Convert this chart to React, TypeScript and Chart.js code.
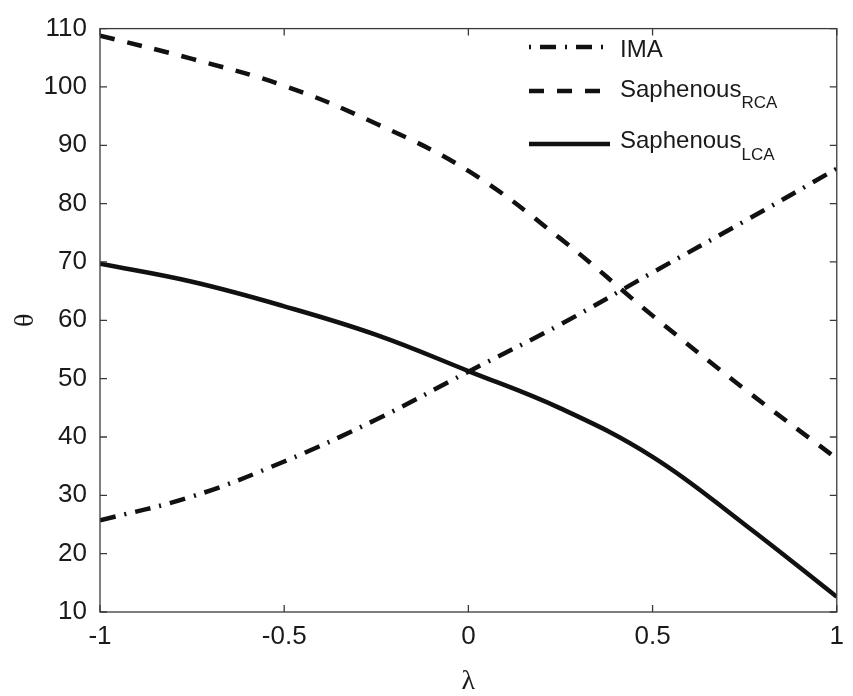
import React, { useEffect, useRef } from "react";
import { Chart, registerables } from "chart.js";

Chart.register(...registerables);

// ---- data ----
const LAMBDA = [-1, -0.75, -0.5, -0.25, 0, 0.25, 0.5, 0.75, 1];
const IMA = [25.7, 29.8, 35.8, 43.0, 51.2, 59.3, 68.2, 77.0, 86.0];
const SAPH_RCA = [108.8, 104.8, 100.2, 93.7, 85.6, 74.0, 60.8, 48.2, 36.3];
const SAPH_LCA = [69.7, 66.6, 62.4, 57.5, 51.3, 44.9, 36.6, 25.0, 12.6];
const X_TICKS = [-1, -0.5, 0, 0.5, 1];
const Y_TICKS = [10, 20, 30, 40, 50, 60, 70, 80, 90, 100, 110];
const SERIES_NAMES = ["IMA", "Saphenous", "Saphenous"];
const SERIES_SUBS = ["", "RCA", "LCA"];
const X_TITLE = "λ";
const Y_TITLE = "θ";

const DASHES = [
  [16, 9, 2, 9],
  [15, 13],
  [],
];
const LEGEND_DASH_OFFSET = [25, 0, 0];

const SANS = '"Liberation Sans", Arial, Helvetica, sans-serif';
const SERIF = '"Liberation Serif", "DejaVu Serif", serif';

const framePlugin = {
  id: "frame",
  afterDraw(chart: any) {
    const { ctx, chartArea: a } = chart;
    const xs = chart.scales.x;
    const ys = chart.scales.y;
    ctx.save();
    ctx.strokeStyle = "#3a3a3a";
    ctx.lineWidth = 1.3;
    ctx.strokeRect(a.left, a.top, a.right - a.left, a.bottom - a.top);
    const L = 7;
    ctx.beginPath();
    for (const v of X_TICKS) {
      const px = xs.getPixelForValue(v);
      ctx.moveTo(px, a.bottom);
      ctx.lineTo(px, a.bottom - L);
      ctx.moveTo(px, a.top);
      ctx.lineTo(px, a.top + L);
    }
    for (const v of Y_TICKS) {
      const py = ys.getPixelForValue(v);
      ctx.moveTo(a.left, py);
      ctx.lineTo(a.left + L, py);
      ctx.moveTo(a.right, py);
      ctx.lineTo(a.right - L, py);
    }
    ctx.stroke();

    // legend
    const lineY = [47, 91, 144];
    const baseY = [56.5, 97, 148];
    const subY = [0, 108, 160];
    const x0 = 529;
    const x1 = 610;
    const tx = 620;
    chart.data.datasets.forEach((ds: any, i: number) => {
      ctx.save();
      ctx.strokeStyle = "#111";
      ctx.lineWidth = 4.5;
      ctx.lineCap = "butt";
      ctx.setLineDash(ds.borderDash || []);
      ctx.lineDashOffset = LEGEND_DASH_OFFSET[i];
      ctx.beginPath();
      ctx.moveTo(x0, lineY[i]);
      ctx.lineTo(x1, lineY[i]);
      ctx.stroke();
      ctx.restore();
      ctx.fillStyle = "#1a1a1a";
      ctx.textBaseline = "alphabetic";
      ctx.textAlign = "left";
      ctx.font = `24px ${SANS}`;
      ctx.fillText(SERIES_NAMES[i], tx, baseY[i]);
      if (SERIES_SUBS[i]) {
        const w = ctx.measureText(SERIES_NAMES[i]).width;
        ctx.font = `17px ${SANS}`;
        ctx.fillText(SERIES_SUBS[i], tx + w, subY[i]);
      }
    });
    ctx.restore();
  },
};

export default function App() {
  const ref = useRef<HTMLCanvasElement | null>(null);

  useEffect(() => {
    if (!ref.current) return;
    const series = [IMA, SAPH_RCA, SAPH_LCA];
    const chart = new Chart(ref.current, {
      type: "line",
      data: {
        datasets: series.map((vals, i) => ({
          label: SERIES_NAMES[i] + SERIES_SUBS[i],
          data: LAMBDA.map((x, k) => ({ x, y: vals[k] })),
          borderColor: "#111",
          borderWidth: 4.5,
          borderDash: DASHES[i],
          borderCapStyle: "butt",
          pointRadius: 0,
          fill: false,
          tension: 0.4,
        })),
      },
      options: {
        animation: false,
        responsive: true,
        maintainAspectRatio: false,
        layout: { padding: { top: 16, right: 15, left: 0, bottom: 0 } },
        plugins: { legend: { display: false }, tooltip: { enabled: false } },
        scales: {
          x: {
            type: "linear",
            min: -1,
            max: 1,
            grid: { display: false, drawTicks: false },
            border: { display: false },
            afterBuildTicks: (s: any) => {
              s.ticks = X_TICKS.map((v) => ({ value: v }));
            },
            afterFit: (s: any) => {
              s.height = 84;
            },
            ticks: {
              padding: 9,
              color: "#1a1a1a",
              font: { family: SANS, size: 26 },
              maxRotation: 0,
              autoSkip: false,
              callback: (v: any) => String(v),
            },
            title: {
              display: true,
              text: X_TITLE,
              color: "#1a1a1a",
              font: { family: SERIF, size: 28, lineHeight: 1 },
              padding: { top: 0, bottom: 0 },
            },
          },
          y: {
            type: "linear",
            min: 10,
            max: 110,
            grid: { display: false, drawTicks: false },
            border: { display: false },
            afterBuildTicks: (s: any) => {
              s.ticks = Y_TICKS.map((v) => ({ value: v }));
            },
            afterFit: (s: any) => {
              s.width = 100;
            },
            ticks: {
              padding: 13,
              color: "#1a1a1a",
              font: { family: SANS, size: 26 },
              autoSkip: false,
              callback: (v: any) => String(v),
            },
            title: {
              display: true,
              text: Y_TITLE,
              color: "#1a1a1a",
              font: { family: SERIF, size: 28, lineHeight: 1 },
              padding: { top: 12, bottom: 0 },
            },
          },
        },
      },
      plugins: [framePlugin],
    } as any);
    return () => chart.destroy();
  }, []);

  return (
    <div
      style={{
        position: "fixed",
        left: 0,
        top: 0,
        width: 853,
        height: 696,
        background: "#fff",
      }}
    >
      <canvas ref={ref} />
    </div>
  );
}
